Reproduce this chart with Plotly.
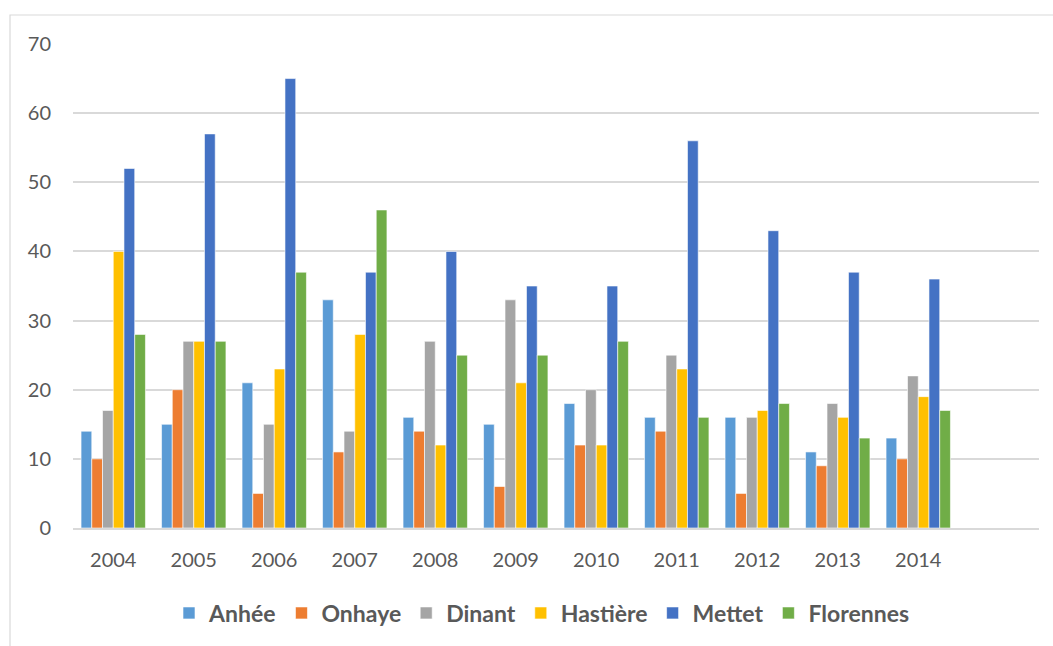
import plotly.graph_objects as go

years = [2004, 2005, 2006, 2007, 2008, 2009, 2010, 2011, 2012, 2013, 2014]
anhee = [14, 15, 21, 33, 16, 15, 18, 16, 16, 11, 13]
onhaye = [10, 20, 5, 11, 14, 6, 12, 14, 5, 9, 10]
dinant = [17, 27, 15, 14, 27, 33, 20, 25, 16, 18, 22]
hastiere = [40, 27, 23, 28, 12, 21, 12, 23, 17, 16, 19]
mettet = [52, 57, 65, 37, 40, 35, 35, 56, 43, 37, 36]
florennes = [28, 27, 37, 46, 25, 25, 27, 16, 18, 13, 17]

series = [
    ("Anhée", anhee, "#5b9bd5"),
    ("Onhaye", onhaye, "#ed7d31"),
    ("Dinant", dinant, "#a5a5a5"),
    ("Hastière", hastiere, "#ffc000"),
    ("Mettet", mettet, "#4472c4"),
    ("Florennes", florennes, "#70ad47"),
]

FONT = "Lato, 'Open Sans', sans-serif"

fig = go.Figure()
for name, vals, col in series:
    fig.add_trace(go.Bar(x=years, y=vals, name=name,
                         marker=dict(color=col, line=dict(color="white", width=0.6))))

W, H = 1053, 646
L, R, T, B = 73, 14, 44, 118
pw = W - L - R
ph = H - T - B

fig.update_layout(
    width=W, height=H,
    margin=dict(l=L, r=R, t=T, b=B),
    paper_bgcolor="white", plot_bgcolor="white",
    barmode="group", bargap=0.2, bargroupgap=0,
    font=dict(family=FONT, color="#595959", size=20),
    showlegend=True,
    legend=dict(orientation="h", x=(542 - L) / pw, xanchor="center",
                y=(ph - (613 - T)) / ph, yanchor="middle",
                font=dict(size=23, color="#595959", family=FONT, weight="bold"),
                itemwidth=30, tracegroupgap=0),
    xaxis=dict(range=[2003.5, 2015.5], tickmode="array", tickvals=years,
               ticktext=[str(y) for y in years], showgrid=False,
               showline=True, linecolor="#d9d9d9", linewidth=1.5,
               ticks="", ticklabelstandoff=13, tickfont=dict(size=20)),
    yaxis=dict(range=[0, 70], dtick=10, showgrid=True, gridcolor="#d9d9d9",
               gridwidth=1.5, zeroline=False, ticks="", ticklabelstandoff=21,
               tickfont=dict(size=20)),
    shapes=[dict(type="rect", xref="paper", yref="paper",
                 x0=(10 - L) / pw, x1=(W + 5 - L) / pw,
                 y0=(ph - (H + 5 - T)) / ph, y1=(ph - (15 - T)) / ph,
                 line=dict(color="#d9d9d9", width=1.2), layer="below")],
)

fig.write_html("out.html", config={"displayModeBar": False},
               post_script="document.body.style.margin='0';document.body.style.overflow='hidden';")
